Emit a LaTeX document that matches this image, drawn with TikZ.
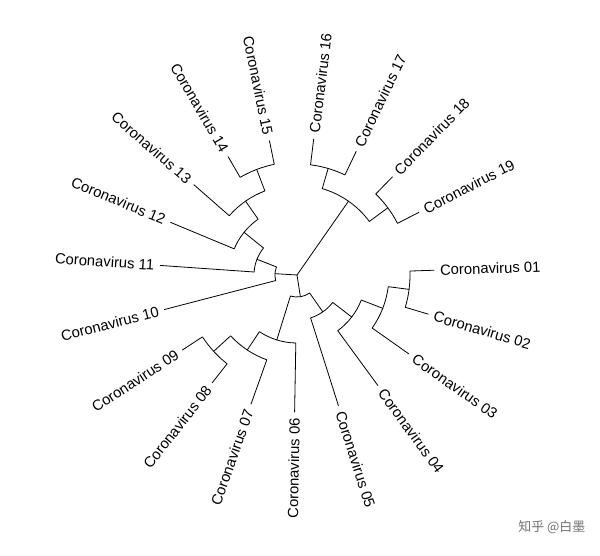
\documentclass[tikz,border=0pt]{standalone}
\usepackage{fontspec}
\setmainfont{Liberation Sans}
\newfontfamily\cjk{Noto Sans CJK SC}
\begin{document}
\begin{tikzpicture}[x=1pt,y=1pt,
  br/.style={line width=0.8pt,line cap=round,line join=round},
  lab/.style={font=\fontsize{14.8}{16}\selectfont,inner sep=0pt}]
\useasboundingbox (-297,-280) rectangle (303,275);
\fill[white] (-297,-280) rectangle (303,275);
\coordinate (root) at (0,0);
% leaves
\foreach \i/\a in {01/2,02/-16.6,03/-35.2,04/-53.8,05/-72.4,06/-91,07/-109.6,08/-128.2,09/-146.8,10/-165.4,11/176,12/157.4,13/138.8,14/120.2,15/101.6,16/83,17/64.4,18/45.8,19/27.2}{
  \coordinate (L\i) at (\a:137pt);
  \pgfmathparse{(\a>-90 && \a<90) ? 1 : 0}
  \ifnum\pgfmathresult=1
    \node[lab,anchor=west,rotate=\a] (T\i) at (\a:143pt) {Coronavirus \i};
  \else
    \node[lab,anchor=east,rotate=\a+180] (T\i) at (\a:143pt) {Coronavirus \i};
  \fi
}
% clade: name, radius, angleA, angleB, childA, childB
\newcommand\clade[6]{%
  \pgfmathsetmacro\mid{(#3+#4)/2}%
  \coordinate (#1) at (\mid:#2pt);%
  \draw[br] (#5) -- (#3:#2pt) arc[start angle=#3,end angle=#4,radius=#2pt] -- (#6);}
\clade{n12}{113}{2}{-16.6}{L01}{L02}
\clade{n123}{92}{-7.3}{-35.2}{n12}{L03}
\clade{n1234}{69}{-21.25}{-53.8}{n123}{L04}
\clade{n12345}{45}{-37.525}{-72.4}{n1234}{L05}
\clade{n89}{113}{-128.2}{-146.8}{L08}{L09}
\clade{n789}{90}{-109.6}{-137.5}{L07}{n89}
\clade{n6789}{68}{-91}{-123.55}{L06}{n789}
\clade{nB}{22}{-54.96}{-107.28}{n12345}{n6789}
\clade{n1415}{113}{120.2}{101.6}{L14}{L15}
\clade{n1315}{90}{138.8}{110.9}{L13}{n1415}
\clade{n1215}{68}{157.4}{124.85}{L12}{n1315}
\clade{n1115}{43}{176}{141.125}{L11}{n1215}
\clade{nL}{22}{194.6}{158.56}{L10}{n1115}
\clade{n1617}{111}{83}{64.4}{L16}{L17}
\clade{n1819}{113}{45.8}{27.2}{L18}{L19}
\clade{nT}{90}{73.7}{36.5}{n1617}{n1819}
\draw[br] (root) -- (nT);
\draw[br] (root) -- (nL);
\draw[br] (root) -- (nB);
\node[font=\cjk\fontsize{13}{15}\selectfont,text=black!55,anchor=east] (wm) at (292,-252) {知乎 @白墨};
\end{tikzpicture}
\end{document}
